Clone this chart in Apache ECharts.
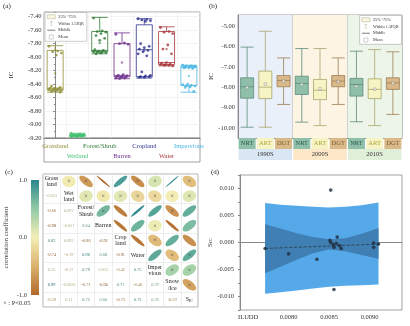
<!DOCTYPE html>
<html>
<head>
<meta charset="utf-8">
<script src="https://cdn.jsdelivr.net/npm/echarts@6/dist/echarts.min.js"></script>
<style>html,body{margin:0;padding:0;background:#fff;}#chart{width:410px;height:326px;}</style>
</head>
<body>
<div id="chart"></div>
<script>
// ---------------- Panel (a): IC by land type ----------------
const landTypes = ['Grassland','Wetland','Forest/Shrub','Barren','Cropland','Water','Impervious'];
// [min, Q1, median, Q3, max]
const landBox = [
  [-8.52,-8.49,-8.46,-7.90,-7.83],
  [-9.18,-9.17,-9.16,-9.15,-9.13],
  [-7.95,-7.92,-7.90,-7.62,-7.41],
  [-8.32,-8.29,-8.27,-7.80,-7.64],
  [-8.31,-8.29,-7.89,-7.52,-7.43],
  [-8.13,-8.11,-8.08,-7.62,-7.55],
  [-8.52,-8.42,-8.15,-8.13,-8.12]
];
const landMean = [-8.24,-9.16,-7.79,-8.08,-7.90,-7.88,-8.28];
const landPoints = [
  [-7.84,-7.91,-7.92,-7.94,-7.97,-8.43,-8.45,-8.46,-8.46,-8.47,-8.47,-8.48,-8.48,-8.49,-8.49,-8.50,-8.51,-8.52],
  [-9.13,-9.14,-9.15,-9.15,-9.16,-9.16,-9.16,-9.17,-9.17,-9.17,-9.18,-9.18],
  [-7.42,-7.61,-7.62,-7.63,-7.65,-7.68,-7.72,-7.75,-7.89,-7.90,-7.91,-7.92,-7.92,-7.93,-7.93,-7.94,-7.95],
  [-7.66,-7.79,-7.80,-7.81,-8.26,-8.27,-8.28,-8.29,-8.29,-8.30,-8.30,-8.31,-8.31,-8.32],
  [-7.43,-7.44,-7.45,-7.46,-7.47,-7.80,-7.84,-7.86,-7.88,-7.90,-7.92,-7.95,-7.98,-8.22,-8.27,-8.28,-8.29,-8.29,-8.30,-8.30],
  [-7.56,-7.62,-7.63,-7.65,-7.82,-7.88,-7.95,-8.08,-8.09,-8.10,-8.11,-8.11,-8.12,-8.12,-8.13],
  [-8.12,-8.13,-8.13,-8.14,-8.14,-8.15,-8.15,-8.16,-8.16,-8.17,-8.40,-8.41,-8.42,-8.43,-8.43,-8.44,-8.45,-8.51]
];

// ---------------- Panel (b): IC by restoration type and decade ----------------
const restoreTypes = ['NRT','ART','DGT'];
const decades = ['1990S','2000S','2010S'];
const restoreBox = [
  [-9.97,-8.54,-7.98,-7.54,-6.03],
  [-9.97,-8.56,-8.00,-7.21,-5.25],
  [-8.85,-7.98,-7.67,-7.43,-6.56],
  [-9.72,-8.36,-7.82,-7.46,-6.10],
  [-9.89,-8.61,-8.15,-7.62,-6.10],
  [-8.85,-7.98,-7.70,-7.43,-6.56],
  [-9.70,-8.44,-7.87,-7.57,-6.23],
  [-9.89,-8.56,-8.11,-7.59,-6.15],
  [-9.34,-8.11,-7.79,-7.54,-6.26]
];
const restoreMean = [-8.02,-7.85,-7.70,-7.87,-8.08,-7.72,-7.96,-8.10,-7.80];

// ---------------- Panel (c): correlation matrix ----------------
const corrLabels = ['Grass\nland','Wet\nland','Forest/\nShrub','Barren','Crop\nland','Water','Imper\nvious','Snow\n/Ice','S{sub|IC}'];
const corrLower = [
  [],
  [-0.033],
  [-0.66, 0.097],
  [-0.98, -0.051, 0.64],
  [0.83, 0.092, -0.86, -0.92],
  [-0.74, -0.19, 0.96, 0.68, -0.91],
  [0.15, -0.17, 0.79, 0.033, -0.42, 0.75],
  [0.99, -0.0056, -0.71, -0.94, 0.71, -0.40, 0.39],
  [-0.39, 0.11, 0.72, 0.60, -0.73, 0.73, 0.39, -0.59]
];
const corrMarked = [[0,1],[0,2],[0,5],[0,6],[0,8],[1,2],[1,3],[1,4],[1,5],[1,6],[1,7],[1,8],
                    [2,3],[2,7],[3,6],[4,6],[5,7],[5,8],[6,7],[6,8],[7,8]];
const colorbarTicks = [-1, 0, 1];

// ---------------- Panel (d): ILUDD vs S_IC ----------------
const iluddX = [0.00771,0.00800,0.00835,0.00852,0.00851,0.00852,0.00855,0.00856,0.00860,0.00859,0.00863,0.00865,0.00856,0.00905,0.00905,0.00911];
const sicY   = [-0.0011,-0.0021,-0.0031,0.0097,0.0004,0.0000,-0.0004,-0.0009,0.0010,-0.0002,-0.0006,-0.0011,-0.0087,-0.0001,-0.0009,-0.0003];
const bandX      = [0.00771,0.0079,0.0081,0.0083,0.0085,0.0087,0.0089,0.00911];
const outerUpper = [0.0073,0.0070,0.0068,0.0066,0.0065,0.0066,0.0069,0.0074];
const outerLower = [-0.0095,-0.0092,-0.0089,-0.0085,-0.0082,-0.0080,-0.0079,-0.0078];
const innerUpper = [0.0034,0.0026,0.0017,0.0010,0.0006,0.0008,0.0016,0.0027];
const innerLower = [-0.0057,-0.0045,-0.0032,-0.0020,-0.0013,-0.0016,-0.0023,-0.0030];
const fitLine = [[0.00771,-0.0011],[0.00911,-0.0003]];
const fitText = ['y = 0.784x - 0.0072','R² = 0.006'];

// ---------------- styling helpers ----------------
const SERIF = "'Liberation Serif','DejaVu Serif',serif";
const landColors = ['#8e8d34','#3fbf6f','#2f7a35','#6e2f8c','#2c2f8e','#a8363a','#48b6e2'];
const restoreFill = {NRT:'#8fbfa9', ART:'#f6f4c4', DGT:'#d9b889'};
const restoreLine = {NRT:'#5d8c7c', ART:'#a9a66c', DGT:'#9c7f55'};
const restoreText = {NRT:'#2c5a4e', ART:'#b0a238', DGT:'#7d5f2c'};
const decadeBg = ['#e9f0fa','#fdf4e3','#edf5e8'];
const decadeLabelBg = ['#d9e6f4','#fde7c9','#e0efd8'];
const cmapStops = [-1,-0.5,0,0.5,1];
const cmapColors = ['#b06a2c','#dcb06c','#f3eeb6','#92cba6','#2a878d'];

function hex2rgb(h){return [parseInt(h.substr(1,2),16),parseInt(h.substr(3,2),16),parseInt(h.substr(5,2),16)];}
function cmap(r, k){
  k = k || 1;
  let i = 0; while (i < cmapStops.length-2 && r > cmapStops[i+1]) i++;
  const t = Math.max(0, Math.min(1, (r - cmapStops[i]) / (cmapStops[i+1]-cmapStops[i])));
  const a = hex2rgb(cmapColors[i]), b = hex2rgb(cmapColors[i+1]);
  const c = a.map((v,j)=>Math.round((v + (b[j]-v)*t)*k));
  return 'rgb('+c.join(',')+')';
}
function fmtStep(v, step, d){
  if (Math.abs(v) < 1e-12) v = 0;
  const q = v/step; return Math.abs(q-Math.round(q)) < 1e-6 ? v.toFixed(d) : '';
}
function fmtCorr(r){ return Math.abs(r) >= 0.1 ? r.toFixed(2) : r.toPrecision(2); }

const tickFont = {fontSize:6.5, fontFamily:SERIF, color:'#333'};

// ---------------- derived series data ----------------
const landScatter = [];
landPoints.forEach((arr,i)=>arr.forEach((v,k)=>{
  const off = (((k*7)%11)/10 - 0.5)*0.55;
  landScatter.push({value:[i+off, v], itemStyle:{color:landColors[i]}});
}));
const landBoxData = landBox.map((v,i)=>({value:v, itemStyle:{color:'rgba(255,255,255,0)', borderColor:landColors[i], borderWidth:0.8}}));
const landMeanData = landMean.map((v,i)=>({value:[i,v], itemStyle:{color:landColors[i], opacity:0.6}}));

const restoreCats = [];
decades.forEach(d=>restoreTypes.forEach(t=>restoreCats.push(t+'|'+d)));
const restoreBoxData = restoreBox.map((v,i)=>{
  const t = restoreTypes[i%3];
  return {value:v, itemStyle:{color:restoreFill[t], borderColor:restoreLine[t], borderWidth:0.8}};
});
const restoreMeanData = restoreMean.map((v,i)=>[i,v]);

const markSet = new Set(corrMarked.map(p=>p[0]+'-'+p[1]));
const corrData = [];
for (let i=0;i<9;i++) for (let j=0;j<9;j++){
  if (i===j) corrData.push([j,i,0,0,0]);
  else if (i>j) corrData.push([j,i,corrLower[i][j],1,0]);
  else corrData.push([j,i,corrLower[j][i],2,markSet.has(i+'-'+j)?1:0]);
}

function renderCell(params, api){
  const col = api.value(0), row = api.value(1), r = api.value(2), kind = api.value(3), mk = api.value(4);
  const p = api.coord([col,row]); const sz = api.size([1,1]);
  const w = sz[0]/2, h = sz[1]/2;
  if (kind === 0){
    return {type:'text', style:{text:corrLabels[row], x:p[0], y:p[1], align:'center', verticalAlign:'middle',
      fontSize:6, fontFamily:SERIF, fill:'#222', lineHeight:6.2,
      rich:{sub:{fontSize:4.2, fontFamily:SERIF, fill:'#222', verticalAlign:'bottom', padding:[3,0,0,0]}}}};
  }
  if (kind === 1){
    return {type:'text', style:{text:fmtCorr(r), x:p[0], y:p[1], align:'center', verticalAlign:'middle',
      fontSize:4.3, fontFamily:SERIF, fill:cmap(r,0.75)}};
  }
  const a = 0.78*Math.sqrt(1+Math.abs(r)), b = 0.78*Math.sqrt(Math.max(0,1-Math.abs(r)));
  const s = r >= 0 ? 1 : -1; const pts = [];
  for (let t=0;t<48;t++){
    const th = t/48*2*Math.PI, u = a*Math.cos(th), v = b*Math.sin(th);
    pts.push([p[0] + (u+v)/Math.SQRT2*w, p[1] + s*(v-u)/Math.SQRT2*h]);
  }
  const children = [{type:'polygon', shape:{points:pts}, style:{fill:cmap(r)}}];
  if (mk) children.push({type:'text', style:{text:'×', x:p[0], y:p[1]+0.3, align:'center', verticalAlign:'middle', fontSize:6, fontFamily:SERIF, fill:'#444'}});
  return {type:'group', children};
}

function bandRenderer(upper, lower, color){
  return function(params, api){
    const pts = [];
    for (let i=0;i<bandX.length;i++) pts.push(api.coord([bandX[i], upper[i]]));
    for (let i=bandX.length-1;i>=0;i--) pts.push(api.coord([bandX[i], lower[i]]));
    return {type:'polygon', shape:{points:pts}, style:{fill:color}};
  };
}

const legendItems = [
  {name:'25%~75%', icon:'rect', itemStyle:{color:'#f7f5dc', borderColor:'#9a9a70', borderWidth:0.5}},
  {name:'Within 1.5IQR', icon:'path://M0,0h6v1h-2.5v8h2.5v1h-6v-1h2.5v-8h-2.5z', itemStyle:{color:'#8a8a5a'}},
  {name:'Middle', icon:'path://M0,0h10v1.2h-10z', itemStyle:{color:'#555'}},
  {name:'Mean', icon:'path://M0,0h4v4h-4z', itemStyle:{color:'#fff', borderColor:'#888', borderWidth:0.5}}
];
const legendBase = {orient:'vertical', itemWidth:8, itemHeight:4, itemGap:2.6, padding:[2,3,2,2],
  backgroundColor:'#fff', borderColor:'#999', borderWidth:0.5, selectedMode:false,
  textStyle:{fontSize:4.3, fontFamily:SERIF, color:'#333', padding:[0,0,0,-2]}, data:legendItems};

const labelRich = {};
landTypes.forEach((t,i)=>{ labelRich['c'+i] = {color:landColors[i], fontSize:6.5, fontFamily:SERIF, lineHeight:10}; });
const restoreRich = {};
restoreTypes.forEach(t=>{ restoreRich[t] = {backgroundColor:restoreFill[t], color:restoreText[t], width:17, height:11, lineHeight:11, align:'center', fontSize:6.5, fontFamily:SERIF}; });
const decadeRich = {};
decades.forEach((d,i)=>{ decadeRich['d'+i] = {backgroundColor:decadeLabelBg[i], color:'#333', width:53.5, height:11, lineHeight:11, align:'center', fontSize:6.5, fontFamily:SERIF}; });

const option = {
  animation:false,
  backgroundColor:'#fff',
  textStyle:{fontFamily:SERIF},
  legend:[ Object.assign({left:45, top:12.5}, legendBase), Object.assign({right:8.5, top:15.5}, legendBase) ],
  grid:[
    {left:44, top:12, width:156, height:126, show:true, borderColor:'#8a8a8a', borderWidth:0.8},
    {left:238, top:15, width:164, height:123, show:true, borderColor:'#8a8a8a', borderWidth:0.8},
    {left:43, top:174, width:155, height:133, show:true, borderColor:'#9a9a9a', borderWidth:0.8},
    {left:240, top:175, width:162, height:135, show:true, borderColor:'#8a8a8a', borderWidth:0.8},
    {left:31, top:180, width:8, height:115}
  ],
  xAxis:[
    {gridIndex:0, type:'category', data:landTypes, axisTick:{show:false}, axisLine:{lineStyle:{color:'#888'}},
     splitLine:{show:true, lineStyle:{color:'#ececec', width:0.6}},
     axisLabel:{interval:0, margin:3, lineHeight:10, fontSize:6.5, formatter:(v,i)=>(i%2?'\n':'')+'{c'+i+'|'+v+'}', rich:labelRich}},
    {gridIndex:0, type:'value', min:-0.5, max:6.5, show:false},
    {gridIndex:1, type:'category', data:restoreCats, axisTick:{show:false}, axisLine:{lineStyle:{color:'#888'}},
     axisLabel:{interval:0, margin:0, formatter:v=>{const t=v.split('|')[0]; return '{'+t+'|'+t+'}';}, rich:restoreRich}},
    {gridIndex:1, type:'category', data:decades, position:'bottom', offset:11, axisLine:{show:false}, axisTick:{show:false},
     splitArea:{show:true, areaStyle:{color:decadeBg}}, splitLine:{show:true, lineStyle:{color:'#b8b8b8', width:0.6}},
     axisLabel:{interval:0, margin:0, formatter:(v,i)=>'{d'+i+'|'+v+'}', rich:decadeRich}},
    {gridIndex:2, type:'category', data:corrLabels.map((l,i)=>'v'+i), axisLabel:{show:false}, axisLine:{show:false}, axisTick:{show:false},
     splitLine:{show:true, lineStyle:{color:'#e2e2e2', width:0.6}}},
    {gridIndex:3, type:'value', min:0.0074, max:0.0094, interval:0.0001, axisTick:{show:false}, splitLine:{show:false},
     axisLine:{lineStyle:{color:'#888'}},
     axisLabel:Object.assign({margin:4, showMinLabel:true, formatter:v=>Math.abs(v-0.0075)<1e-9?'ILUDD':fmtStep(v,0.0005,4)}, tickFont)},
    {gridIndex:4, type:'category', data:['cb'], show:false}
  ],
  yAxis:[
    {gridIndex:0, type:'value', min:-9.2, max:-7.33, interval:0.2, name:'IC', nameLocation:'middle', nameGap:29, nameRotate:90,
     nameTextStyle:{fontSize:7, fontFamily:SERIF, color:'#333'},
     axisLine:{show:true, lineStyle:{color:'#888'}}, axisTick:{length:2}, minorTick:{show:true, splitNumber:2, length:1.2},
     splitLine:{show:true, lineStyle:{color:'#ececec', width:0.6}},
     axisLabel:Object.assign({margin:2.5, formatter:v=>fmtStep(v,0.2,2)}, tickFont)},
    {gridIndex:1, type:'value', min:-10.5, max:-4.45, interval:0.5, name:'IC', nameLocation:'middle', nameGap:22, nameRotate:90,
     nameTextStyle:{fontSize:7, fontFamily:SERIF, color:'#333'},
     axisLine:{show:true, lineStyle:{color:'#888'}}, axisTick:{length:2}, splitLine:{show:false},
     axisLabel:Object.assign({margin:3, formatter:v=>fmtStep(v,1,2)}, tickFont)},
    {gridIndex:2, type:'category', data:corrLabels.map((l,i)=>'v'+i), inverse:true, axisLabel:{show:false}, axisLine:{show:false}, axisTick:{show:false},
     splitLine:{show:true, lineStyle:{color:'#e2e2e2', width:0.6}}},
    {gridIndex:3, type:'value', min:-0.0125, max:0.0125, interval:0.0025, name:'S{sub|IC}', nameLocation:'middle', nameGap:25, nameRotate:90,
     nameTextStyle:{fontSize:7, fontFamily:SERIF, color:'#333', rich:{sub:{fontSize:5, fontFamily:SERIF, verticalAlign:'bottom'}}},
     axisLine:{show:true, lineStyle:{color:'#888'}}, axisTick:{length:2}, splitLine:{show:false},
     axisLabel:Object.assign({margin:6, formatter:v=>fmtStep(v,0.005,3)}, tickFont)},
    {gridIndex:4, type:'value', min:-1, max:1, interval:1, name:'correlation coefficient', nameLocation:'middle', nameGap:21, nameRotate:90,
     nameTextStyle:{fontSize:7, fontFamily:SERIF, color:'#333'},
     axisLine:{show:false}, axisTick:{show:false}, splitLine:{show:false},
     axisLabel:Object.assign({margin:4, formatter:v=>colorbarTicks.indexOf(v)>=0?v.toFixed(1):''}, tickFont)}
  ],
  series:[
    {type:'boxplot', xAxisIndex:0, yAxisIndex:0, data:landBoxData, boxWidth:[16,16], silent:true},
    {type:'scatter', xAxisIndex:1, yAxisIndex:0, data:landScatter, symbolSize:2.8, silent:true},
    {type:'scatter', xAxisIndex:1, yAxisIndex:0, data:landMeanData, symbol:'rect', symbolSize:2.2, silent:true},
    {type:'boxplot', xAxisIndex:2, yAxisIndex:1, data:restoreBoxData, boxWidth:[13,13], silent:true},
    {type:'scatter', xAxisIndex:2, yAxisIndex:1, data:restoreMeanData, symbol:'rect', symbolSize:2.5,
     itemStyle:{color:'#fff', borderColor:'#777', borderWidth:0.5}, silent:true},
    {type:'custom', xAxisIndex:4, yAxisIndex:2, data:corrData, renderItem:renderCell, silent:true},
    {type:'custom', xAxisIndex:6, yAxisIndex:4, data:[[0,0]], silent:true, renderItem:(params, api)=>{
      const top = api.coord([0,1]), bot = api.coord([0,-1]); const w = api.size([1,0])[0];
      return {type:'rect', shape:{x:top[0]-w/2, y:top[1], width:w, height:bot[1]-top[1]},
        style:{fill:new echarts.graphic.LinearGradient(0,0,0,1, cmapColors.slice().reverse().map((c,i)=>({offset:i/4, color:c})))}};
    }},
    {type:'custom', xAxisIndex:5, yAxisIndex:3, data:[[bandX[0],0]], renderItem:bandRenderer(outerUpper, outerLower, '#55a9e8'), silent:true, z:1},
    {type:'custom', xAxisIndex:5, yAxisIndex:3, data:[[bandX[0],0]], renderItem:bandRenderer(innerUpper, innerLower, '#3f7fb3'), silent:true, z:2},
    {type:'line', xAxisIndex:5, yAxisIndex:3, data:fitLine, symbol:'none', lineStyle:{type:'dashed', color:'#2e3b48', width:0.8}, silent:true, z:3},
    {type:'scatter', xAxisIndex:5, yAxisIndex:3, data:iluddX.map((x,i)=>[x, sicY[i]]), symbolSize:3.6, itemStyle:{color:'#1e2b3a'}, silent:true, z:4},
    {type:'scatter', name:'25%~75%', xAxisIndex:1, yAxisIndex:0, data:[]},
    {type:'scatter', name:'Within 1.5IQR', xAxisIndex:1, yAxisIndex:0, data:[]},
    {type:'scatter', name:'Middle', xAxisIndex:1, yAxisIndex:0, data:[]},
    {type:'scatter', name:'Mean', xAxisIndex:1, yAxisIndex:0, data:[]}
  ],
  graphic:[
    {type:'rect', shape:{x:44, y:138, width:156, height:24}, style:{fill:'none', stroke:'#8a8a8a', lineWidth:0.8}, silent:true},
    {type:'text', left:3, top:3, style:{text:'(a)', fontSize:7, fontFamily:SERIF, fill:'#222'}},
    {type:'text', left:209, top:3, style:{text:'(b)', fontSize:7, fontFamily:SERIF, fill:'#222'}},
    {type:'text', left:5, top:169, style:{text:'(c)', fontSize:7, fontFamily:SERIF, fill:'#222'}},
    {type:'text', left:211, top:169, style:{text:'(d)', fontSize:7, fontFamily:SERIF, fill:'#222'}},
    {type:'text', left:3, top:300, style:{text:'× : P<0.05', fontSize:6.5, fontFamily:SERIF, fill:'#333'}},
    {type:'text', left:324, top:264, style:{text:fitText[0], fontSize:6, fontFamily:SERIF, fill:'#2d4a66'}},
    {type:'text', left:333, top:273.5, style:{text:fitText[1], fontSize:6, fontFamily:SERIF, fill:'#2d4a66'}}
  ]
};
const chart = echarts.init(document.getElementById('chart'));
chart.setOption(option);
</script>
</body>
</html>
